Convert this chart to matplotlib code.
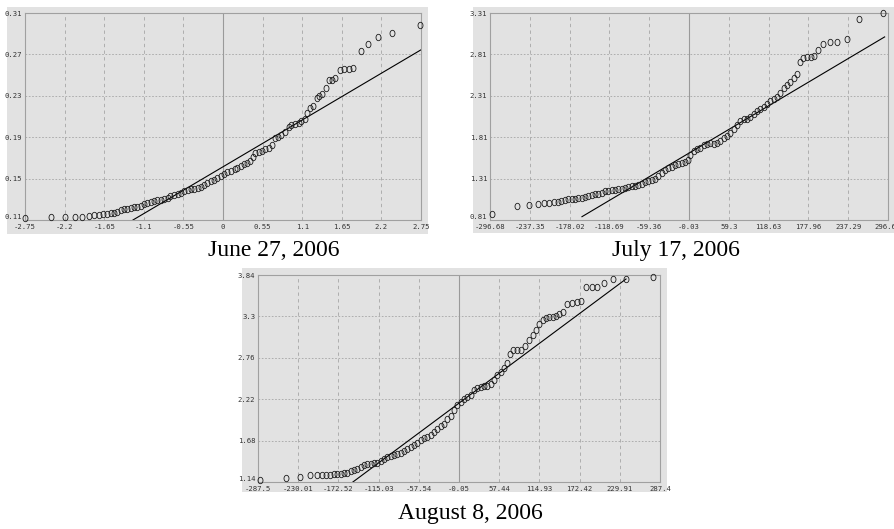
import numpy as np
import matplotlib
matplotlib.use("Agg")
import matplotlib.pyplot as plt
from matplotlib.patches import Rectangle
from matplotlib.path import Path
from matplotlib.transforms import Affine2D

W, H = 894, 529

# ------------------ data ------------------ #
# June 27, 2006
june_x = [-2.75, -2.39, -2.19, -2.06, -1.96, -1.86, -1.79, -1.72, -1.66, -1.61,
          -1.55, -1.51, -1.47, -1.42, -1.37, -1.33, -1.28, -1.23, -1.19, -1.14,
          -1.10, -1.05, -1.00, -0.96, -0.91, -0.86, -0.82, -0.77, -0.73, -0.68,
          -0.63, -0.59, -0.54, -0.49, -0.45, -0.40, -0.35, -0.31, -0.26, -0.22,
          -0.17, -0.12, -0.08, -0.03, 0.02, 0.06, 0.11, 0.16, 0.20, 0.25,
          0.29, 0.34, 0.38, 0.41, 0.45, 0.50, 0.54, 0.59, 0.64, 0.68,
          0.72, 0.77, 0.81, 0.86, 0.91, 0.95, 1.00, 1.05, 1.09, 1.14,
          1.17, 1.21, 1.25, 1.30, 1.34, 1.38, 1.43, 1.47, 1.52, 1.56,
          1.62, 1.68, 1.75, 1.81, 1.92, 2.02, 2.15, 2.35, 2.73]
june_y = [0.112, 0.1126, 0.113, 0.113, 0.113, 0.114, 0.1148, 0.115, 0.1155, 0.116,
          0.1165, 0.117, 0.118, 0.120, 0.1206, 0.121, 0.122, 0.1226, 0.123, 0.124,
          0.125, 0.1265, 0.1274, 0.128, 0.129, 0.1297, 0.130, 0.131, 0.133, 0.134,
          0.1355, 0.136, 0.1377, 0.139, 0.140, 0.140, 0.141, 0.142, 0.1435, 0.1455,
          0.148, 0.149, 0.1506, 0.1526, 0.1545, 0.1565, 0.1574, 0.1594, 0.1606, 0.162,
          0.164, 0.165, 0.1668, 0.171, 0.175, 0.176, 0.177, 0.1784, 0.180, 0.182,
          0.189, 0.1906, 0.1926, 0.195, 0.1997, 0.202, 0.203, 0.204, 0.2055, 0.2075,
          0.213, 0.218, 0.220, 0.228, 0.230, 0.2316, 0.2374, 0.2448, 0.245, 0.2468,
          0.255, 0.2558, 0.2558, 0.2568, 0.273, 0.280, 0.287, 0.291, 0.2987]
june_line = (0.1614, 0.0411, -1.25, 2.75)   # intercept, slope, x from, x to
june_xticks = [-2.75, -2.2, -1.65, -1.1, -0.55, 0, 0.55, 1.1, 1.65, 2.2, 2.75]
june_xlabels = ["-2.75", "-2.2", "-1.65", "-1.1", "-0.55", "0", "0.55", "1.1", "1.65", "2.2", "2.75"]
june_yticks = [0.11, 0.15, 0.19, 0.23, 0.27, 0.31]
june_ylabels = ["0.11", "0.15", "0.19", "0.23", "0.27", "0.31"]

# July 17, 2006
july_x = [-293.7, -257.0, -238.6, -225.7, -215.8, -208.3, -201.9, -195.9, -190.4, -185.0,
          -180.0, -175.1, -170.1, -165.1, -160.2, -155.2, -150.2, -145.3, -140.3, -135.3,
          -130.4, -125.4, -120.4, -115.5, -110.5, -105.5, -100.6, -95.6, -90.6, -85.7,
          -80.7, -75.7, -70.8, -65.8, -60.8, -55.9, -50.9, -45.9, -41.0, -36.0,
          -31.0, -26.1, -21.1, -16.1, -11.2, -6.2, -1.2, 2.2, 7.2, 12.1,
          17.1, 22.1, 27.0, 32.0, 37.0, 41.9, 46.9, 51.9, 56.8, 61.8,
          66.8, 71.7, 76.7, 81.7, 86.6, 91.6, 96.6, 101.5, 106.5, 111.5,
          116.4, 121.4, 126.3, 131.3, 136.3, 141.2, 146.2, 151.2, 156.1, 161.1,
          165.0, 170.0, 175.5, 181.4, 186.9, 192.4, 199.8, 209.7, 220.6, 235.5,
          253.4, 289.1]
july_y = [0.886, 0.975, 0.987, 1.003, 1.015, 1.019, 1.023, 1.031, 1.039, 1.047,
          1.059, 1.059, 1.067, 1.071, 1.079, 1.083, 1.095, 1.107, 1.119, 1.123,
          1.140, 1.156, 1.164, 1.172, 1.176, 1.184, 1.188, 1.196, 1.212, 1.220,
          1.224, 1.232, 1.248, 1.264, 1.276, 1.292, 1.308, 1.345, 1.381, 1.413,
          1.437, 1.453, 1.477, 1.485, 1.493, 1.505, 1.533, 1.590, 1.646, 1.666,
          1.682, 1.710, 1.726, 1.742, 1.730, 1.738, 1.763, 1.795, 1.827, 1.863,
          1.911, 1.960, 2.000, 2.028, 2.032, 2.056, 2.088, 2.124, 2.152, 2.177,
          2.209, 2.249, 2.273, 2.293, 2.345, 2.410, 2.442, 2.482, 2.530, 2.578,
          2.715, 2.763, 2.779, 2.779, 2.792, 2.868, 2.932, 2.956, 2.964, 3.000,
          3.234, 3.314]
july_line = (1.618, 0.004812, -159.6, 291.6)
july_xticks = [-296.68, -237.35, -178.02, -118.69, -59.36, -0.03, 59.3, 118.63, 177.96, 237.29, 296.62]
july_xlabels = ["-296.68", "-237.35", "-178.02", "-118.69", "-59.36", "-0.03", "59.3",
                "118.63", "177.96", "237.29", "296.62"]
july_yticks = [0.81, 1.31, 1.81, 2.31, 2.81, 3.31]
july_ylabels = ["0.81", "1.31", "1.81", "2.31", "2.81", "3.31"]

# August 8, 2006
aug_x = [-284.2, -247.0, -227.0, -213.7, -203.2, -196.1, -189.9, -184.2, -179.0, -174.1,
         -169.4, -164.6, -159.9, -155.1, -150.3, -145.6, -140.8, -136.0, -131.3, -126.5,
         -121.7, -117.0, -112.2, -107.5, -102.7, -97.9, -93.2, -88.4, -83.6, -78.9,
         -74.1, -69.3, -64.6, -59.8, -55.1, -50.3, -45.5, -40.8, -36.0, -31.2,
         -26.5, -21.7, -17.0, -12.2, -7.4, -2.7, 2.1, 6.9, 11.6, 16.4,
         21.1, 25.9, 30.7, 35.4, 40.2, 45.0, 49.7, 54.5, 59.3, 64.0,
         68.8, 73.5, 77.3, 82.6, 88.8, 95.0, 100.7, 105.5, 110.2, 115.0,
         119.7, 124.5, 129.3, 134.0, 138.8, 143.6, 148.3, 154.0, 161.2, 168.3,
         174.0, 181.7, 189.8, 196.9, 207.4, 220.7, 238.8, 276.9]
aug_y = [1.162, 1.197, 1.210, 1.227, 1.227, 1.227, 1.231, 1.236, 1.240, 1.245,
         1.249, 1.253, 1.262, 1.279, 1.292, 1.314, 1.340, 1.362, 1.375, 1.380,
         1.384, 1.393, 1.414, 1.445, 1.467, 1.480, 1.488, 1.506, 1.523, 1.549,
         1.576, 1.597, 1.623, 1.654, 1.684, 1.711, 1.728, 1.750, 1.789, 1.828,
         1.872, 1.902, 1.959, 2.002, 2.076, 2.142, 2.185, 2.220, 2.251, 2.281,
         2.338, 2.368, 2.381, 2.394, 2.394, 2.412, 2.468, 2.534, 2.569, 2.621,
         2.686, 2.804, 2.860, 2.860, 2.865, 2.917, 2.991, 3.056, 3.122, 3.196,
         3.252, 3.283, 3.292, 3.292, 3.305, 3.326, 3.353, 3.457, 3.479, 3.492,
         3.496, 3.679, 3.679, 3.683, 3.736, 3.788, 3.788, 3.810]
aug_line = (2.169, 0.006779, -151.8, 238.8)
aug_xticks = [-287.5, -230.01, -172.52, -115.03, -57.54, -0.05, 57.44, 114.93, 172.42, 229.91, 287.4]
aug_xlabels = ["-287.5", "-230.01", "-172.52", "-115.03", "-57.54", "-0.05", "57.44",
               "114.93", "172.42", "229.91", "287.4"]
aug_yticks = [1.14, 1.68, 2.22, 2.76, 3.3, 3.84]
aug_ylabels = ["1.14", "1.68", "2.22", "2.76", "3.3", "3.84"]

BG = "#e2e2e2"
GRID = "#a6a6a6"
FRAME = "#a0a0a0"

# slightly tall open circle, like the reference markers
OVAL = Path.unit_circle().transformed(Affine2D().scale(0.78, 1.0))


def px_box(l, t, r, b):
    return [l / W, 1 - b / H, (r - l) / W, (b - t) / H]


def qq_panel(fig, frame_px, axes_px, xs, ys, line, xticks, xlabels, yticks, ylabels, caption, cap_xy):
    l, t, r, b = frame_px
    fig.add_artist(Rectangle((l / W, 1 - b / H), (r - l) / W, (b - t) / H,
                             transform=fig.transFigure, facecolor=BG, edgecolor="none", zorder=0))
    ax = fig.add_axes(px_box(*axes_px))
    ax.set_facecolor(BG)
    ax.set_xlim(xticks[0], xticks[-1])
    ax.set_ylim(yticks[0], yticks[-1])

    for xv in xticks[1:-1]:
        ax.axvline(xv, color=GRID, lw=0.6, dashes=(4, 4), zorder=1)
    for yv in yticks[1:-1]:
        ax.axhline(yv, color=GRID, lw=0.6, dashes=(2, 2), zorder=1)
    ax.axvline(0, color="#9a9a9a", lw=0.8, zorder=1)

    a, k, x0, x1 = line
    lx = np.array([x0, x1])
    ax.plot(lx, a + k * lx, color="black", lw=0.8, zorder=2)

    ax.plot(xs, ys, linestyle="none", marker=OVAL, markersize=4.6, mfc="none",
            mec="#1a1a1a", mew=0.6, zorder=3, clip_on=False)

    ax.set_xticks(xticks)
    ax.set_xticklabels(xlabels)
    ax.set_yticks(yticks)
    ax.set_yticklabels(ylabels)
    ax.tick_params(length=0, labelsize=5.2, labelcolor="#333333")
    ax.tick_params(axis="x", pad=3)
    ax.tick_params(axis="y", pad=2)
    for lab in ax.get_xticklabels() + ax.get_yticklabels():
        lab.set_family("DejaVu Sans Mono")
    # keep the corner labels clear of each other
    ax.get_yticklabels()[0].set_verticalalignment("bottom")
    for s in ax.spines.values():
        s.set_color(FRAME)
        s.set_linewidth(0.8)

    fig.text(cap_xy[0] / W, 1 - cap_xy[1] / H, caption, ha="center", va="center",
             family="Liberation Serif", fontsize=17)
    return ax


fig = plt.figure(figsize=(W / 100, H / 100), dpi=100)
fig.patch.set_facecolor("white")

qq_panel(fig, (7, 7, 428, 234), (25, 13, 421, 220), june_x, june_y, june_line,
         june_xticks, june_xlabels, june_yticks, june_ylabels, "June 27, 2006", (274, 250))
qq_panel(fig, (473, 7, 894, 233), (490, 13, 888, 220), july_x, july_y, july_line,
         july_xticks, july_xlabels, july_yticks, july_ylabels, "July 17, 2006", (676, 250))
qq_panel(fig, (242, 268, 667, 492), (258, 275, 660, 482), aug_x, aug_y, aug_line,
         aug_xticks, aug_xlabels, aug_yticks, aug_ylabels, "August 8, 2006", (470, 514))

fig.savefig("out.png", dpi=100)
